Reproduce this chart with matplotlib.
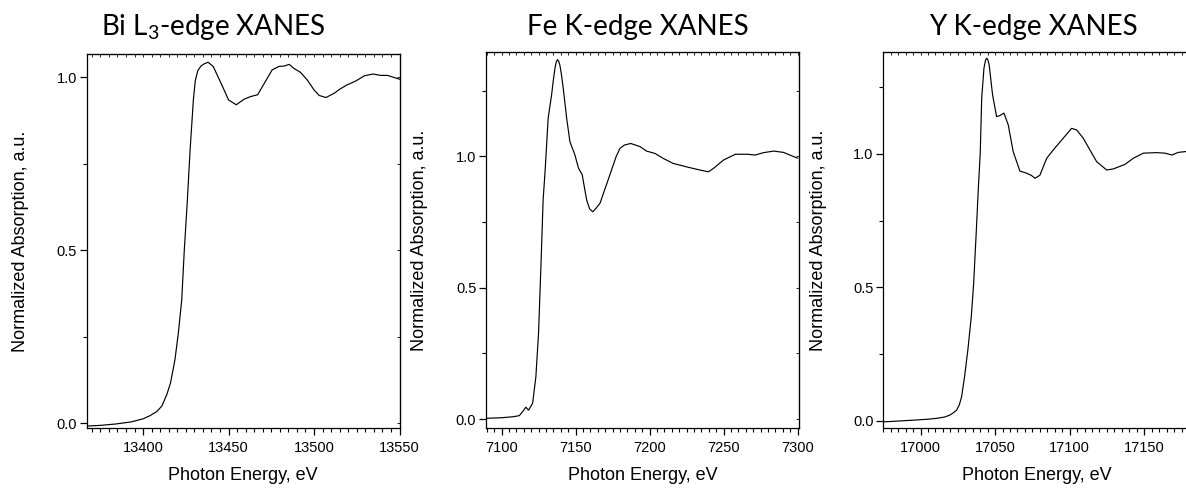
import matplotlib
matplotlib.use("Agg")
import matplotlib.pyplot as plt
from matplotlib.ticker import MultipleLocator

plt.rcParams['font.family'] = ['Liberation Sans', 'DejaVu Sans']
plt.rcParams['mathtext.fontset'] = 'custom'
plt.rcParams['mathtext.rm'] = 'Lato'

# Bi L3-edge
bi_e = [13367, 13375, 13384, 13393, 13400, 13404, 13408, 13411, 13414, 13416, 13418.6, 13420.6,
        13422.6, 13424.1, 13425.9, 13427.5, 13429.4, 13430.5, 13432, 13434, 13436, 13438, 13441,
        13446, 13450, 13454.5, 13459, 13463, 13467, 13471.5, 13475.5, 13479.5, 13482.5, 13485.5,
        13488, 13492, 13496, 13500, 13503, 13507, 13512, 13515, 13519.5, 13524.5, 13529.5,
        13534.5, 13539, 13543, 13550]
bi_mu = [-0.008, -0.006, -0.002, 0.004, 0.013, 0.022, 0.034, 0.05, 0.085, 0.116, 0.183, 0.26,
         0.357, 0.501, 0.646, 0.791, 0.935, 0.99, 1.02, 1.034, 1.04, 1.044, 1.032,
         0.979, 0.935, 0.921, 0.937, 0.945, 0.95, 0.988, 1.022, 1.032, 1.033, 1.038,
         1.027, 1.015, 0.993, 0.964, 0.948, 0.942, 0.955, 0.966, 0.979, 0.99, 1.005,
         1.01, 1.006, 1.006, 0.995]

# Fe K-edge
fe_e = [7090, 7100, 7108, 7112, 7114.2, 7116.4, 7118.3, 7121, 7123.2, 7125, 7126.6, 7128.1,
        7129.5, 7131.5, 7133.8, 7135, 7136.1, 7137, 7137.8, 7138.6, 7139.4, 7140.5, 7141.7,
        7144, 7146.2, 7149.6, 7152, 7154.5, 7157.5, 7159.5, 7161.6, 7163.5, 7166.5, 7172,
        7177.5, 7180, 7183, 7187.3, 7193.6, 7198, 7203.7, 7209.3, 7216, 7225, 7234, 7239.8,
        7243.2, 7250, 7258, 7266, 7271.4, 7277, 7284, 7290.5, 7300]
fe_mu = [0.003, 0.005, 0.009, 0.013, 0.028, 0.045, 0.034, 0.06, 0.161, 0.326, 0.58, 0.834,
         0.95, 1.145, 1.233, 1.29, 1.335, 1.36, 1.368, 1.362, 1.348, 1.31, 1.259,
         1.145, 1.056, 1.005, 0.955, 0.93, 0.834, 0.8, 0.789, 0.8, 0.821, 0.91,
         1.0, 1.03, 1.043, 1.049, 1.037, 1.02, 1.011, 0.992, 0.973, 0.96, 0.948, 0.941,
         0.954, 0.986, 1.008, 1.008, 1.005, 1.014, 1.02, 1.015, 0.993]

# Y K-edge
y_e = [16975, 16985, 16997, 17005, 17010.5, 17016, 17019.5, 17022, 17024.2, 17026, 17027.5,
       17029.5, 17031.7, 17034, 17035.6, 17037.3, 17038.9, 17040, 17041, 17042.5, 17043.5,
       17044.3, 17045.2, 17046, 17048.3, 17051, 17053.2, 17055.9, 17058.8, 17062.1, 17066.6,
       17071.1, 17074.5, 17076.7, 17080, 17084.6, 17089, 17094.6, 17101.3, 17104.7, 17109.1,
       17113.6, 17118.1, 17124.8, 17129.3, 17137.1, 17142.7, 17149.4, 17158.4, 17164, 17168.5,
       17172.9, 17178]
y_mu = [-0.004, -0.001, 0.003, 0.006, 0.009, 0.014, 0.021, 0.03, 0.04, 0.06, 0.09,
        0.165, 0.265, 0.39, 0.515, 0.703, 0.89, 1.0, 1.209, 1.321, 1.35,
        1.359, 1.352, 1.334, 1.221, 1.14, 1.144, 1.153, 1.109, 1.009, 0.936,
        0.928, 0.919, 0.909, 0.92, 0.984, 1.015, 1.052, 1.096, 1.09, 1.059,
        1.015, 0.971, 0.94, 0.944, 0.961, 0.984, 1.003, 1.005, 1.003, 0.996,
        1.006, 1.009]

titles = [r"Bi L$_\mathregular{3}$-edge XANES", "Fe K-edge XANES", "Y K-edge XANES"]
title_x = [213, 638, 1033]

W, H = 1186, 488
fig = plt.figure(figsize=(W / 100, H / 100), dpi=100)

# (left, top, right, bottom) in pixels, xlim, ylim
panels = [
    ((86.7, 54.3, 399.5, 428), (13367, 13550), (-0.0136, 1.067), bi_e, bi_mu),
    ((486, 52.3, 799, 428), (7089.5, 7301), (-0.034, 1.396), fe_e, fe_mu),
    ((883.3, 52.3, 1190, 428), (16975, 17180.7), (-0.027, 1.381), y_e, y_mu),
]

for i, (box, xl, yl, e, mu) in enumerate(panels):
    l, t, r, b = box
    ax = fig.add_axes([l / W, 1 - b / H, (r - l) / W, (b - t) / H])
    ax.plot(e, mu, color='black', lw=0.85)
    ax.set_xlim(xl)
    ax.set_ylim(yl)
    ax.xaxis.set_major_locator(MultipleLocator(50))
    ax.xaxis.set_minor_locator(MultipleLocator(5))
    ax.yaxis.set_major_locator(MultipleLocator(0.5))
    ax.yaxis.set_minor_locator(MultipleLocator(0.25))
    ax.yaxis.set_major_formatter(matplotlib.ticker.FormatStrFormatter('%.1f'))
    ax.tick_params(which='major', direction='out', length=5, width=0.9, labelsize=10.5,
                   top=False, right=False)
    ax.tick_params(which='minor', direction='out', length=3, width=0.8, top=False, right=False)
    ax.tick_params(axis='x', which='major', pad=4)
    ax.tick_params(axis='y', which='major', pad=2)
    for s in ax.spines.values():
        s.set_linewidth(0.9)
    # small inward ticks on the opposite sides
    sec_x = ax.secondary_xaxis('top')
    sec_x.xaxis.set_major_locator(MultipleLocator(5))
    sec_x.tick_params(direction='in', length=2, width=0.6, labeltop=False)
    sec_x.set_xticklabels([])
    sec_y = ax.secondary_yaxis('right')
    sec_y.yaxis.set_major_locator(MultipleLocator(0.25))
    sec_y.tick_params(direction='in', length=2, width=0.6, labelright=False)
    sec_y.set_yticklabels([])

    ax.set_xlabel("Photon Energy, eV", fontsize=13)
    ax.set_ylabel("Normalized Absorption, a.u.", fontsize=13)
    ax.xaxis.set_label_coords(0.5, -(475 - b) / (b - t))
    ax.xaxis.label.set_va('center')
    ax.yaxis.set_label_coords(-0.212, 0.5)
    ax.yaxis.label.set_va('center')

    fig.text(title_x[i] / W, 1 - 27 / H, titles[i], fontsize=20, family='Lato',
             ha='center', va='center')

fig.savefig("out.png", dpi=100)
